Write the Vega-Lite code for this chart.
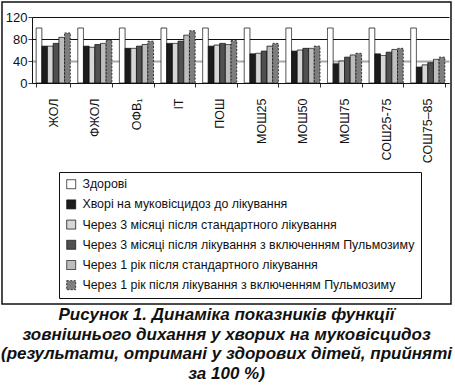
{
  "$schema": "https://vega.github.io/schema/vega-lite/v6.json",
  "width": 449,
  "height": 302,
  "autosize": "none",
  "padding": {"left": 2, "top": 2, "right": 4, "bottom": 82},
  "background": "white",
  "title": {
    "text": ["Рисунок 1. Динаміка показників функції", "зовнішнього дихання у хворих на муковісцидоз", "(результати, отримані у здорових дітей, прийняті", "за 100 %)"],
    "orient": "bottom",
    "anchor": "middle",
    "offset": 3,
    "font": "Liberation Sans",
    "fontSize": 17,
    "fontStyle": "italic",
    "fontWeight": "bold",
    "lineHeight": 19.5,
    "color": "#111"
  },
  "data": {
    "values": [
      {"p": "ЖОЛ", "s": "Здорові", "v": 100},
      {"p": "ЖОЛ", "s": "Хворі на муковісцидоз до лікування", "v": 67},
      {"p": "ЖОЛ", "s": "Через 3 місяці після стандартного лікування", "v": 67},
      {"p": "ЖОЛ", "s": "Через 3 місяці після лікування з включенням Пульмозиму", "v": 72},
      {"p": "ЖОЛ", "s": "Через 1 рік після стандартного лікування", "v": 83},
      {"p": "ЖОЛ", "s": "Через 1 рік після лікування з включенням Пульмозиму", "v": 91},
      {"p": "ФЖОЛ", "s": "Здорові", "v": 100},
      {"p": "ФЖОЛ", "s": "Хворі на муковісцидоз до лікування", "v": 67},
      {"p": "ФЖОЛ", "s": "Через 3 місяці після стандартного лікування", "v": 65},
      {"p": "ФЖОЛ", "s": "Через 3 місяці після лікування з включенням Пульмозиму", "v": 70},
      {"p": "ФЖОЛ", "s": "Через 1 рік після стандартного лікування", "v": 72},
      {"p": "ФЖОЛ", "s": "Через 1 рік після лікування з включенням Пульмозиму", "v": 78},
      {"p": "ОФВ₁", "s": "Здорові", "v": 100},
      {"p": "ОФВ₁", "s": "Хворі на муковісцидоз до лікування", "v": 63},
      {"p": "ОФВ₁", "s": "Через 3 місяці після стандартного лікування", "v": 63},
      {"p": "ОФВ₁", "s": "Через 3 місяці після лікування з включенням Пульмозиму", "v": 67},
      {"p": "ОФВ₁", "s": "Через 1 рік після стандартного лікування", "v": 70},
      {"p": "ОФВ₁", "s": "Через 1 рік після лікування з включенням Пульмозиму", "v": 76},
      {"p": "IT", "s": "Здорові", "v": 100},
      {"p": "IT", "s": "Хворі на муковісцидоз до лікування", "v": 72},
      {"p": "IT", "s": "Через 3 місяці після стандартного лікування", "v": 72},
      {"p": "IT", "s": "Через 3 місяці після лікування з включенням Пульмозиму", "v": 76},
      {"p": "IT", "s": "Через 1 рік після стандартного лікування", "v": 87},
      {"p": "IT", "s": "Через 1 рік після лікування з включенням Пульмозиму", "v": 95},
      {"p": "ПОШ", "s": "Здорові", "v": 100},
      {"p": "ПОШ", "s": "Хворі на муковісцидоз до лікування", "v": 67},
      {"p": "ПОШ", "s": "Через 3 місяці після стандартного лікування", "v": 69},
      {"p": "ПОШ", "s": "Через 3 місяці після лікування з включенням Пульмозиму", "v": 72},
      {"p": "ПОШ", "s": "Через 1 рік після стандартного лікування", "v": 70},
      {"p": "ПОШ", "s": "Через 1 рік після лікування з включенням Пульмозиму", "v": 77},
      {"p": "МОШ25", "s": "Здорові", "v": 100},
      {"p": "МОШ25", "s": "Хворі на муковісцидоз до лікування", "v": 53},
      {"p": "МОШ25", "s": "Через 3 місяці після стандартного лікування", "v": 54},
      {"p": "МОШ25", "s": "Через 3 місяці після лікування з включенням Пульмозиму", "v": 58},
      {"p": "МОШ25", "s": "Через 1 рік після стандартного лікування", "v": 67},
      {"p": "МОШ25", "s": "Через 1 рік після лікування з включенням Пульмозиму", "v": 72},
      {"p": "МОШ50", "s": "Здорові", "v": 100},
      {"p": "МОШ50", "s": "Хворі на муковісцидоз до лікування", "v": 58},
      {"p": "МОШ50", "s": "Через 3 місяці після стандартного лікування", "v": 60},
      {"p": "МОШ50", "s": "Через 3 місяці після лікування з включенням Пульмозиму", "v": 63},
      {"p": "МОШ50", "s": "Через 1 рік після стандартного лікування", "v": 63},
      {"p": "МОШ50", "s": "Через 1 рік після лікування з включенням Пульмозиму", "v": 67},
      {"p": "МОШ75", "s": "Здорові", "v": 100},
      {"p": "МОШ75", "s": "Хворі на муковісцидоз до лікування", "v": 35},
      {"p": "МОШ75", "s": "Через 3 місяці після стандартного лікування", "v": 40},
      {"p": "МОШ75", "s": "Через 3 місяці після лікування з включенням Пульмозиму", "v": 47},
      {"p": "МОШ75", "s": "Через 1 рік після стандартного лікування", "v": 51},
      {"p": "МОШ75", "s": "Через 1 рік після лікування з включенням Пульмозиму", "v": 54},
      {"p": "СОШ25-75", "s": "Здорові", "v": 100},
      {"p": "СОШ25-75", "s": "Хворі на муковісцидоз до лікування", "v": 53},
      {"p": "СОШ25-75", "s": "Через 3 місяці після стандартного лікування", "v": 50},
      {"p": "СОШ25-75", "s": "Через 3 місяці після лікування з включенням Пульмозиму", "v": 56},
      {"p": "СОШ25-75", "s": "Через 1 рік після стандартного лікування", "v": 61},
      {"p": "СОШ25-75", "s": "Через 1 рік після лікування з включенням Пульмозиму", "v": 63},
      {"p": "СОШ75–85", "s": "Здорові", "v": 100},
      {"p": "СОШ75–85", "s": "Хворі на муковісцидоз до лікування", "v": 29},
      {"p": "СОШ75–85", "s": "Через 3 місяці після стандартного лікування", "v": 33},
      {"p": "СОШ75–85", "s": "Через 3 місяці після лікування з включенням Пульмозиму", "v": 37},
      {"p": "СОШ75–85", "s": "Через 1 рік після стандартного лікування", "v": 43},
      {"p": "СОШ75–85", "s": "Через 1 рік після лікування з включенням Пульмозиму", "v": 47}
    ]
  },
  "mark": {"type": "bar", "stroke": "#111", "strokeWidth": 0.8},
  "encoding": {
    "x": {
      "field": "p",
      "type": "nominal",
      "sort": null,
      "scale": {"range": [30, 447], "paddingInner": 0.18, "paddingOuter": 0.1},
      "axis": {
        "title": null,
        "orient": "bottom",
        "offset": -221,
        "labelAngle": -90,
        "labelAlign": "right",
        "labelBaseline": "middle",
        "labelFont": "Liberation Sans",
        "labelFontSize": 12.5,
        "labelColor": "#111",
        "labelPadding": 11,
        "tickBand": "extent",
        "tickSize": 4,
        "tickColor": "#333",
        "domainColor": "#111",
        "grid": false
      }
    },
    "xOffset": {
      "field": "s",
      "type": "nominal",
      "sort": null,
      "scale": {"paddingInner": 0, "paddingOuter": 0}
    },
    "y": {
      "field": "v",
      "type": "quantitative",
      "scale": {"domain": [0, 120], "range": [81, 15], "nice": false, "zero": true},
      "axis": {
        "title": null,
        "orient": "left",
        "offset": -30,
        "values": [0, 40, 80, 120],
        "labelFont": "Liberation Sans",
        "labelFontSize": 13,
        "labelColor": "#111",
        "labelPadding": 1,
        "tickSize": 4,
        "tickColor": "#444",
        "domainColor": "#111",
        "grid": true,
        "gridColor": {"condition": {"test": "datum.value == 40", "value": "#a8a8a8"}, "value": "#111"},
        "gridWidth": {"condition": {"test": "datum.value == 40", "value": 2}, "value": 1}
      }
    },
    "fill": {
      "field": "s",
      "type": "nominal",
      "scale": {
        "domain": ["Здорові", "Хворі на муковісцидоз до лікування", "Через 3 місяці після стандартного лікування", "Через 3 місяці після лікування з включенням Пульмозиму", "Через 1 рік після стандартного лікування", "Через 1 рік після лікування з включенням Пульмозиму"],
        "range": ["#ffffff", "#1c1c1c", "#d6d6d6", "#505050", "#bdbdbd", "#7e7e7e"]
      },
      "legend": {
        "title": null,
        "orient": "none",
        "legendX": 57,
        "legendY": 170,
        "padding": 6,
        "strokeColor": "#111",
        "fillColor": "white",
        "symbolType": "square",
        "symbolSize": 81,
        "symbolStrokeColor": "#111",
        "symbolStrokeWidth": 0.8,
        "labelFont": "Liberation Sans",
        "labelFontSize": 12.4,
        "labelColor": "#111",
        "labelLimit": 420,
        "labelOffset": 5,
        "rowPadding": 7.2,
        "encode": {"symbols": {"update": {"stroke": {"value": "#111"}, "strokeWidth": {"value": 0.8}}}}
      }
    },
    "strokeDash": {
      "field": "s",
      "type": "nominal",
      "scale": {
        "domain": ["Здорові", "Хворі на муковісцидоз до лікування", "Через 3 місяці після стандартного лікування", "Через 3 місяці після лікування з включенням Пульмозиму", "Через 1 рік після стандартного лікування", "Через 1 рік після лікування з включенням Пульмозиму"],
        "range": [[1, 0], [1, 0], [1, 0], [1, 0], [1, 0], [2, 1.5]]
      },
      "legend": {
        "title": null,
        "orient": "none",
        "legendX": 57,
        "legendY": 170,
        "padding": 6,
        "strokeColor": "#111",
        "fillColor": "white",
        "symbolType": "square",
        "symbolSize": 81,
        "symbolStrokeColor": "#111",
        "symbolStrokeWidth": 0.8,
        "labelFont": "Liberation Sans",
        "labelFontSize": 12.4,
        "labelColor": "#111",
        "labelLimit": 420,
        "labelOffset": 5,
        "rowPadding": 7.2,
        "encode": {"symbols": {"update": {"stroke": {"value": "#111"}, "strokeWidth": {"value": 0.8}}}}
      }
    }
  },
  "config": {
    "view": {"stroke": "#111", "strokeWidth": 1.5}
  }
}
